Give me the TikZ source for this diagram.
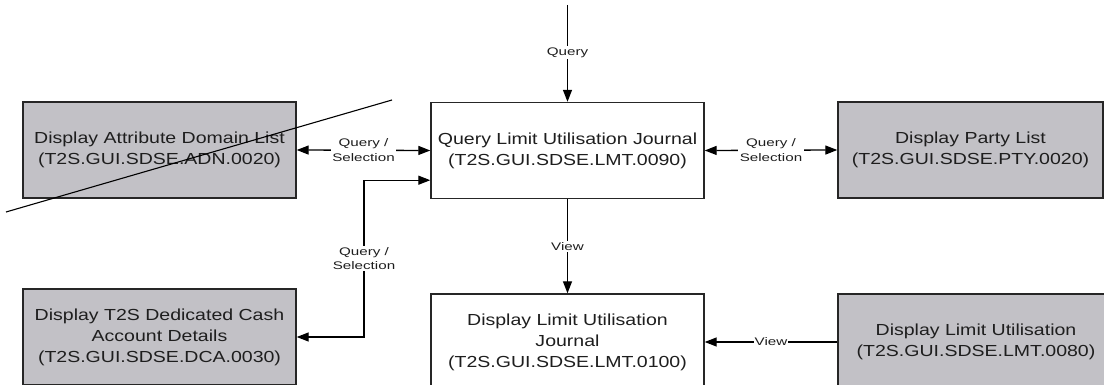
\documentclass[tikz,border=0pt]{standalone}
\usepackage{fontspec}
\setmainfont{Liberation Sans}
\newfontfamily\boxfont[FakeStretch=1.22]{Liberation Sans}
\newfontfamily\lblfont[FakeStretch=1.38]{Liberation Sans}
\usetikzlibrary{arrows.meta,calc}
\definecolor{boxgray}{RGB}{194,193,198}
\definecolor{txt}{RGB}{30,30,30}
\begin{document}
\begin{tikzpicture}[x=1pt,y=-1pt,
  screen/.style={draw=black!85, line width=1.4pt, fill=white, minimum width=273pt, minimum height=96pt,
    inner sep=0pt, align=center, font=\boxfont\fontsize{16}{21}\selectfont, text=txt},
  ext/.style={screen, fill=boxgray},
  conn/.style={line width=1.3pt, draw=black},
  tip/.style={-{Triangle[length=12pt,width=9pt]}},
  bitip/.style={{Triangle[length=12pt,width=9pt]}-{Triangle[length=12pt,width=9pt]}},
  lbl/.style={fill=white, inner sep=1.5pt, align=center, text=txt,
    font=\lblfont\fontsize{11}{14.5}\selectfont}
]
\useasboundingbox (0,0) rectangle (1104,385);
\clip (0,0) rectangle (1104,385);

% screens
\node[ext] (adn) at (159.5,150) {Display Attribute Domain List\\(T2S.GUI.SDSE.ADN.0020)};
\node[screen] (q) at (567.5,150.5) {Query Limit Utilisation Journal\\(T2S.GUI.SDSE.LMT.0090)};
\node[ext, minimum width=265pt] (pty) at (970.5,150) {Display Party List\\(T2S.GUI.SDSE.PTY.0020)};
\node[ext] (dca) at (159.5,337) {Display T2S Dedicated Cash\\Account Details\\(T2S.GUI.SDSE.DCA.0030)};
\node[screen] (j) at (567.5,342) {Display Limit Utilisation\\Journal\\(T2S.GUI.SDSE.LMT.0100)};
\node[ext, minimum width=276pt] (lu) at (976,342) {Display Limit Utilisation\\(T2S.GUI.SDSE.LMT.0080)};

% connectors
\coordinate (top) at (567.5,5);
\draw[conn, tip] (top) -- node[lbl, pos=0.49] {Query} (q.north);
\draw[conn, bitip] (adn.east) -- node[lbl] {Query /\\Selection} (q.west);
\draw[conn, bitip] (q.east) -- node[lbl] {Query /\\Selection} (pty.west);
\coordinate (qs) at ($(q.south west)+(0,-19)$);
\coordinate (vx) at (364,0);
\draw[conn, bitip] (dca.east) -| node[lbl, pos=0.75] {Query /\\Selection} (vx |- qs) -- (qs);
\draw[conn, tip] (q.south) -- node[lbl] {View} (j.north);
\draw[conn, tip] (lu.west) -- node[lbl, inner sep=1pt] {View} (j.east);

% strike-through line
\draw[line width=1.1pt] (392,100) -- (6,212);
\end{tikzpicture}
\end{document}
